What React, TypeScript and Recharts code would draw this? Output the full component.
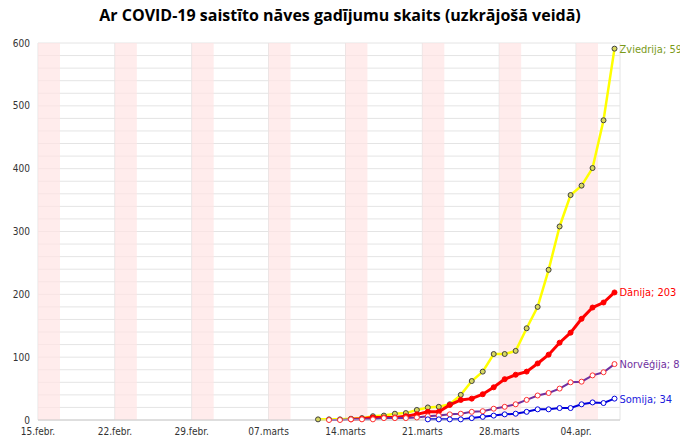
import { LineChart, Line, XAxis, YAxis, CartesianGrid, ReferenceArea, LabelList } from 'recharts';

// day index 0 = 15.febr. 2020; series start on 11.marts (index 25)
const startDay = 25;
const tickDays = [0, 7, 14, 21, 28, 35, 42, 49];
const tickLabels = ['15.febr.', '22.febr.', '29.febr.', '07.marts', '14.marts', '21.marts', '28.marts', '04.apr.'];
const weekendStarts = [0, 7, 14, 21, 28, 35, 42, 49];

const zviedrija = [1, 1, 1, 2, 3, 6, 7, 10, 11, 16, 20, 21, 25, 40, 62, 77, 105, 105, 110, 146, 180, 239, 308, 358, 373, 401, 477, 591];
const danija = [null, null, null, 1, 2, 4, 4, 4, 6, 9, 13, 13, 24, 32, 34, 41, 52, 65, 72, 77, 90, 104, 123, 139, 161, 179, 187, 203];
const norvegija = [null, 0, 0, 1, 1, 1, 3, 3, 3, 4, 6, 7, 9, 10, 13, 14, 18, 21, 25, 32, 39, 43, 50, 60, 61, 71, 76, 89];
const somija = [null, null, null, null, null, null, null, null, null, null, 1, 1, 1, 1, 3, 5, 7, 9, 10, 13, 17, 17, 19, 19, 25, 28, 27, 34];

const data = zviedrija.map((v, i) => ({
  day: startDay + i + 0.5,
  zviedrija: v,
  danija: danija[i],
  norvegija: norvegija[i],
  somija: somija[i],
}));

const yTicks = Array.from({ length: 31 }, (_, i) => i * 20);
const last = zviedrija.length - 1;
const labelFont = '"Liberation Sans Narrow", "DejaVu Sans Condensed", "Open Sans"';

const endLabel = (name: string, color: string) => (props: any) => {
  if (props.index !== last) return null;
  return (
    <text x={props.x + 5} y={props.y + 4} fill={color} fontSize={11} fontFamily={labelFont}>
      {name}; {props.value}
    </text>
  );
};

export default function App() {
  return (
    <div style={{ position: 'absolute', left: 0, top: 0, width: 680, height: 444, background: '#fff' }}>
      <div style={{ position: 'absolute', top: 4, width: 680, textAlign: 'center', fontFamily: 'Open Sans', fontWeight: 'bold', fontSize: 16 }}>
        Ar COVID-19 saistīto nāves gadījumu skaits (uzkrājošā veidā)
      </div>
      <LineChart width={680} height={444} data={data} margin={{ top: 43, right: 60, bottom: 2, left: 8 }}>
        {weekendStarts.map((d) => (
          <ReferenceArea key={d} x1={d} x2={d + 2} fill="#ffe4e4" fillOpacity={0.7} stroke="none" />
        ))}
        <CartesianGrid stroke="#e4e4e4" vertical={true} />
        <XAxis
          type="number"
          dataKey="day"
          domain={[0, 53]}
          ticks={tickDays}
          tickFormatter={(d) => tickLabels[tickDays.indexOf(d)]}
          tick={{ fontSize: 10, fill: '#333', fontFamily: labelFont }}
          stroke="#ccc"
          tickLine={false}
          height={22}
          interval={0}
        />
        <YAxis
          domain={[0, 600]}
          ticks={yTicks}
          tickFormatter={(v) => (v % 100 === 0 ? String(v) : '')}
          tick={{ fontSize: 10, fill: '#333', fontFamily: labelFont }}
          axisLine={false}
          tickLine={false}
          width={30}
          interval={0}
        />
        <Line dataKey="zviedrija" stroke="#ffff00" strokeWidth={2.5} isAnimationActive={false}
          dot={{ r: 2.5, fill: '#d8d860', stroke: '#404040', strokeWidth: 1 }}>
          <LabelList dataKey="zviedrija" content={endLabel('Zviedrija', '#7a9a1a')} />
        </Line>
        <Line dataKey="danija" stroke="#ff0000" strokeWidth={3} isAnimationActive={false}
          dot={{ r: 2.5, fill: '#ff0000', stroke: '#ff0000', strokeWidth: 1 }}>
          <LabelList dataKey="danija" content={endLabel('Dānija', '#ff0000')} />
        </Line>
        <Line dataKey="norvegija" stroke="#7030a0" strokeWidth={2} isAnimationActive={false}
          dot={{ r: 2.5, fill: '#fff', stroke: '#ff3030', strokeWidth: 1 }}>
          <LabelList dataKey="norvegija" content={endLabel('Norvēģija', '#7030a0')} />
        </Line>
        <Line dataKey="somija" stroke="#0000dd" strokeWidth={2} isAnimationActive={false}
          dot={{ r: 2.5, fill: '#fff', stroke: '#0000dd', strokeWidth: 1 }}>
          <LabelList dataKey="somija" content={endLabel('Somija', '#2020dd')} />
        </Line>
      </LineChart>
    </div>
  );
}
